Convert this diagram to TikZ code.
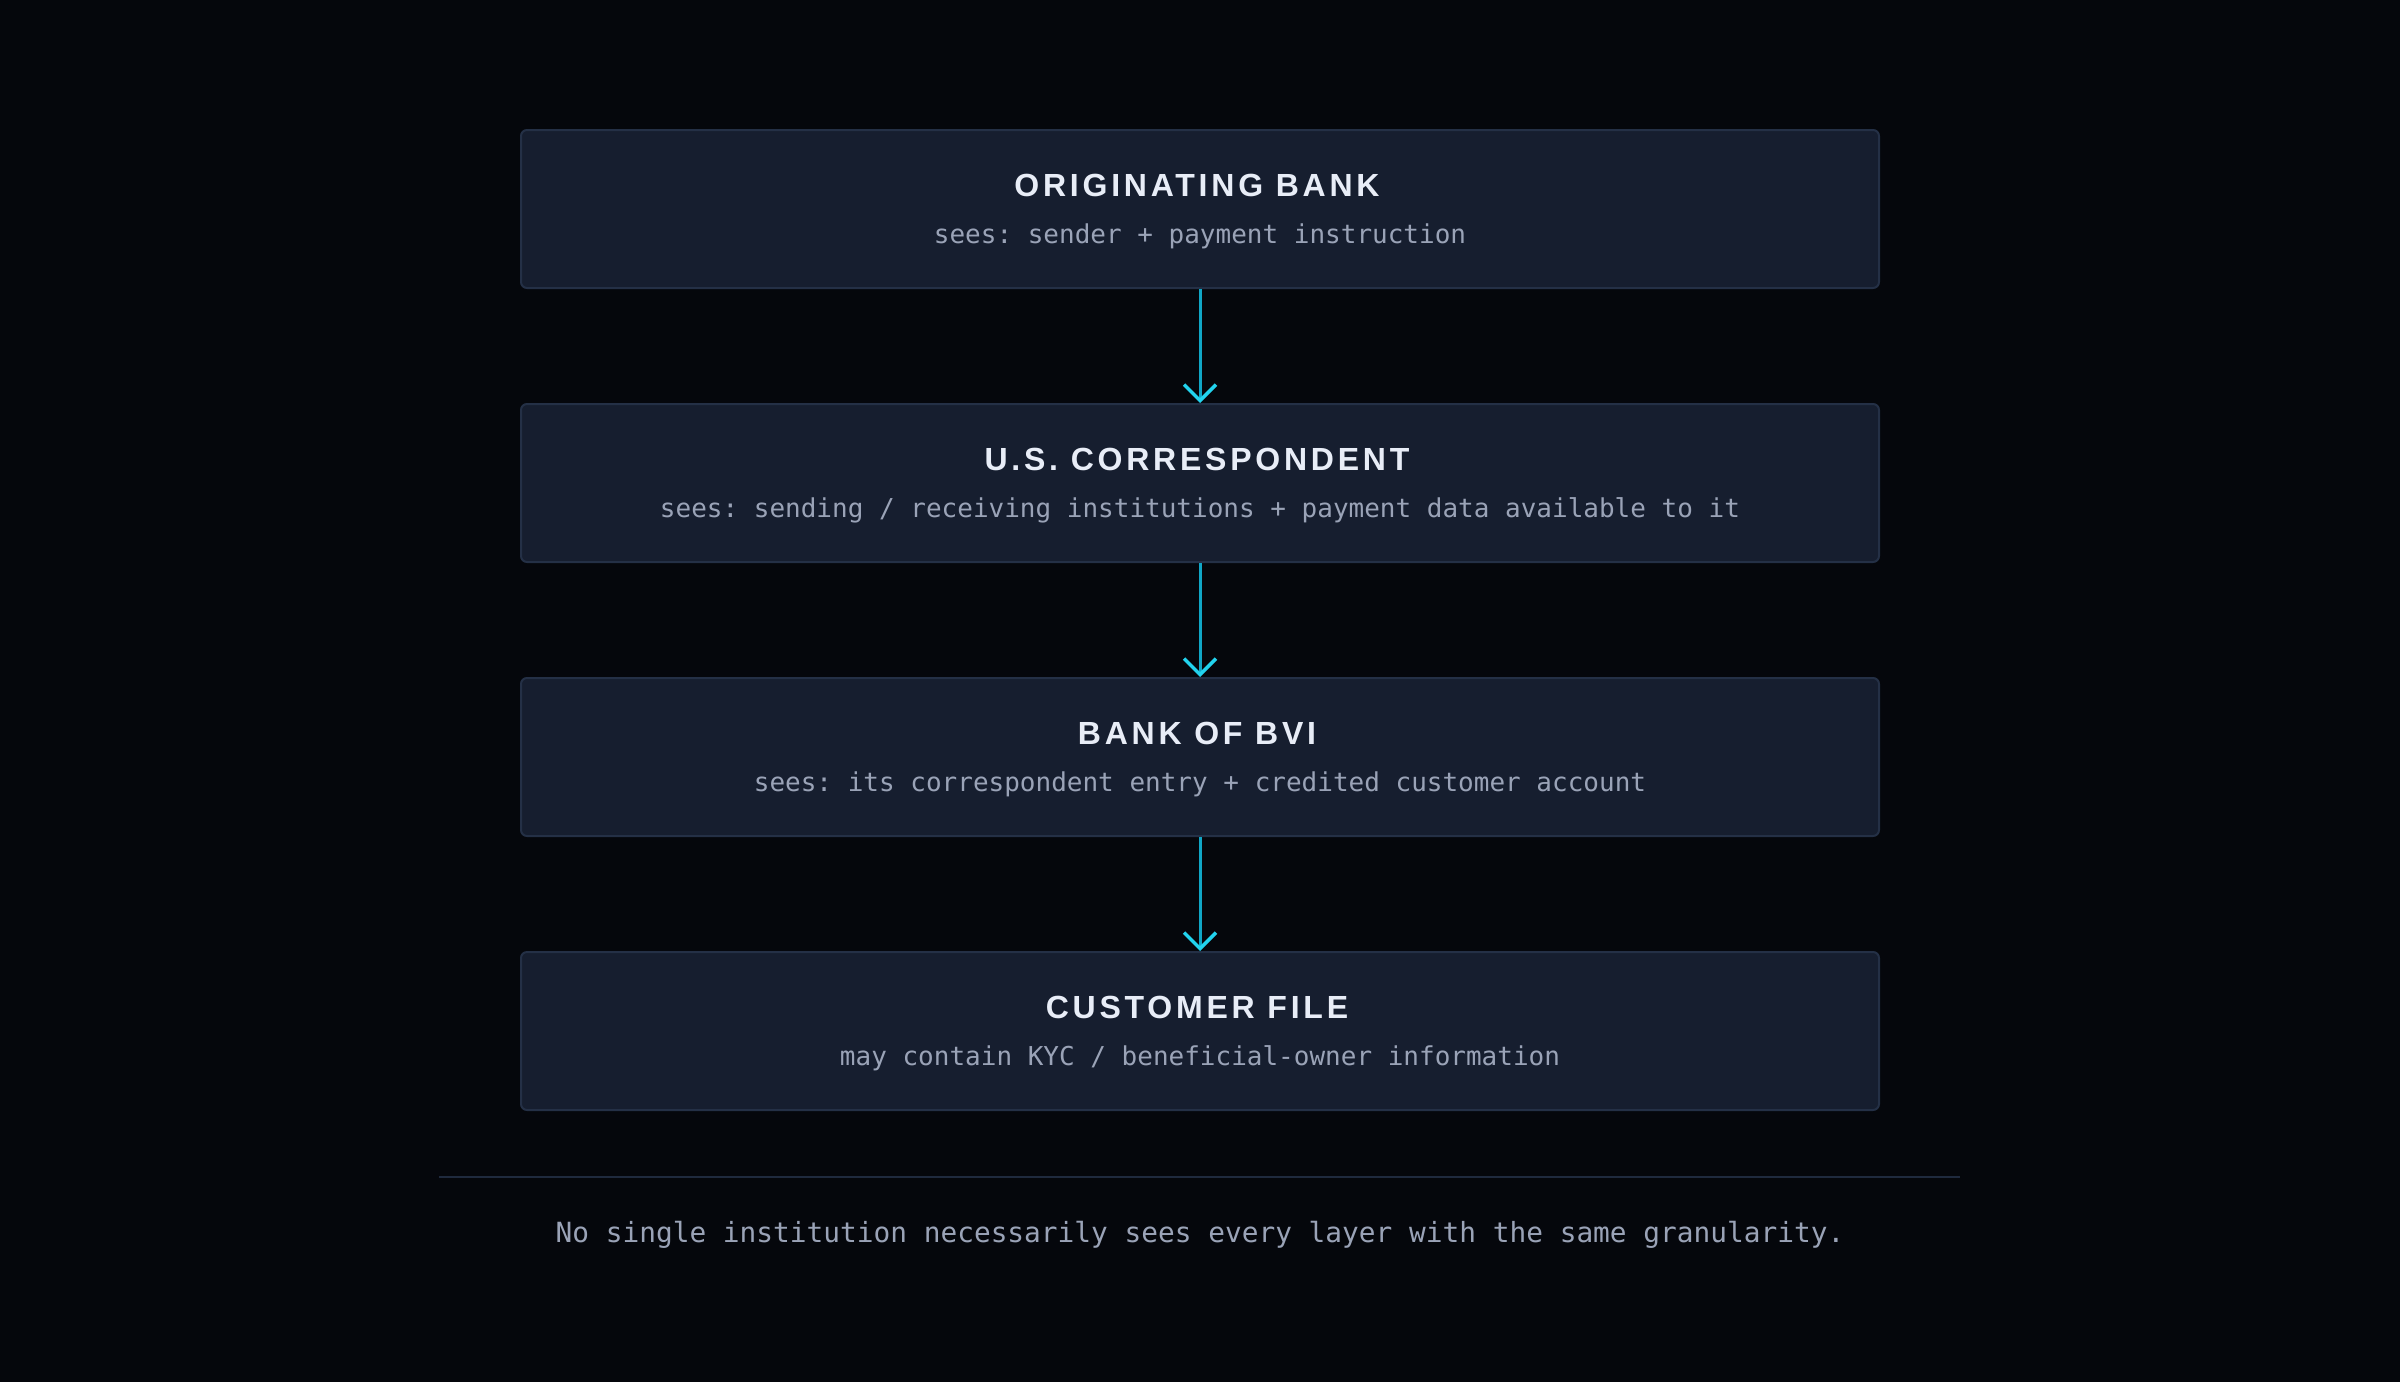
\documentclass[tikz,border=0pt]{standalone}
\usepackage{fontspec}
\setmainfont{Liberation Sans}
\setmonofont{DejaVu Sans Mono}
\newfontfamily\titlefont[LetterSpace=11.8]{Liberation Sans}
\usepackage{tikz}
\usetikzlibrary{arrows.meta}
\definecolor{bg}{HTML}{05070C}
\definecolor{boxfill}{HTML}{161E2F}
\definecolor{boxline}{HTML}{243046}
\definecolor{titletext}{HTML}{E8EDF7}
\definecolor{subtext}{HTML}{9AA3B7}
\definecolor{flowline}{HTML}{10A6C6}
\definecolor{flowhead}{HTML}{22D3EE}
\definecolor{rulecol}{HTML}{1F2A3E}
\tikzset{
	% One box per layer, with its title and what it sees
	layer box/.style={rectangle,draw=boxline,fill=boxfill,line width=2pt,rounded corners=6pt,minimum width=1358pt,minimum height=158pt,inner sep=0pt},
	layer title/.style={anchor=base,text=titletext,inner sep=0pt,font=\titlefont\bfseries\fontsize{32}{38}\selectfont},
	layer note/.style={anchor=base,text=subtext,inner sep=0pt,font=\ttfamily\fontsize{26}{31}\selectfont},
	flow/.style={draw=flowline,line width=3pt,-{Straight Barb[color=flowhead,length=16pt,width=32pt,line width=3.5pt]}}
}
\begin{document}
\begin{tikzpicture}[x=1pt,y=-1pt]
			% Page and background
			\fill[bg] (0,0) rectangle (2400,1382);
			\useasboundingbox (0,0) rectangle (2400,1382);
			
			% The four layers, top to bottom
			\node(orig)[layer box] at (1200,209){};
			\node(orig-t)[layer title] at (1197,196){ORIGINATING BANK};
			\node(orig-n)[layer note] at (1200,243.5){sees: sender + payment instruction};
			
			\node(corr)[layer box] at (1200,483){};
			\node(corr-t)[layer title] at (1197,470){U.S. CORRESPONDENT};
			\node(corr-n)[layer note] at (1200,517.5){sees: sending / receiving institutions + payment data available to it};
			
			\node(bvi)[layer box] at (1200,757){};
			\node(bvi-t)[layer title] at (1197,744){BANK OF BVI};
			\node(bvi-n)[layer note] at (1200,791.5){sees: its correspondent entry + credited customer account};
			
			\node(cust)[layer box] at (1200,1031){};
			\node(cust-t)[layer title] at (1197,1018){CUSTOMER FILE};
			\node(cust-n)[layer note] at (1200,1065.5){may contain KYC / beneficial-owner information};
			
			% Flow between layers
			\draw[flow](orig.south) -- (corr.north);
			\draw[flow](corr.south) -- (bvi.north);
			\draw[flow](bvi.south) -- (cust.north);
			
			% Divider and closing remark
			\coordinate(rule-l) at (439,1177);
			\coordinate(rule-r) at (1960,1177);
			\draw[rulecol,line width=2pt](rule-l) -- (rule-r);
			\node(remark)[layer note,font=\ttfamily\fontsize{27.8}{33}\selectfont] at (1200,1242){No single institution necessarily sees every layer with the same granularity.};
		\end{tikzpicture}
\end{document}
